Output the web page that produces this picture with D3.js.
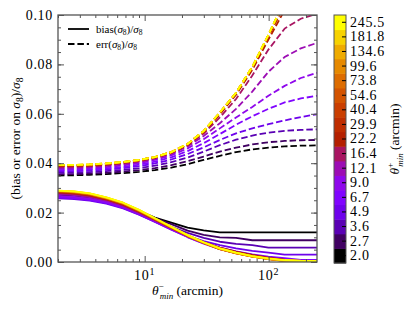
<!DOCTYPE html>
<html><head><meta charset="utf-8">
<script src="https://cdn.jsdelivr.net/npm/d3@7"></script>
<style>
body{margin:0;background:#fff;} svg{display:block;}
</style>
</head><body><svg id="c" width="415" height="312" style="font-family:'Liberation Serif'"></svg>
<script>
// theta_min^- grid (arcmin), same values as the theta_min^+ colorbar levels
const thetaMinus = [2.0, 2.7, 3.6, 4.9, 6.7, 9.0, 12.1, 16.4, 22.2, 29.9, 40.4, 54.6, 73.8, 99.6, 134.6, 181.8, 245.5];
const thetaPlusLabels = ["2.0","2.7","3.6","4.9","6.7","9.0","12.1","16.4","22.2","29.9","40.4","54.6","73.8","99.6","134.6","181.8","245.5"];
const yTickValues = [0, 0.02, 0.04, 0.06, 0.08, 0.10];
const xMajorTicks = [10, 100];
const xMajorExps = ["1", "2"];

// bias(sigma8)/sigma8, one row per theta_min^+ (2.0 ... 245.5)
const biasCurves = [
  [0.0272,0.0269,0.0262,0.0249,0.0231,0.0207,0.0180,0.0159,0.0139,0.0128,0.0120,0.0120,0.0120,0.0120,0.0120,0.0120,0.0120],
  [0.0266,0.0263,0.0256,0.0243,0.0225,0.0202,0.0177,0.0153,0.0127,0.0110,0.0100,0.0098,0.0088,0.0088,0.0088,0.0088,0.0088],
  [0.0262,0.0259,0.0252,0.0239,0.0220,0.0196,0.0169,0.0142,0.0118,0.0098,0.0082,0.0073,0.0068,0.0058,0.0058,0.0058,0.0058],
  [0.0258,0.0255,0.0249,0.0236,0.0217,0.0192,0.0163,0.0133,0.0106,0.0085,0.0068,0.0055,0.0045,0.0038,0.0030,0.0030,0.0030],
  [0.0262,0.0259,0.0252,0.0239,0.0219,0.0193,0.0162,0.0131,0.0101,0.0076,0.0058,0.0043,0.0031,0.0022,0.0016,0.0009,0.0009],
  [0.0268,0.0264,0.0257,0.0243,0.0222,0.0195,0.0164,0.0132,0.0101,0.0074,0.0052,0.0036,0.0024,0.0015,0.0009,0.0005,0.0005],
  [0.0275,0.0271,0.0263,0.0248,0.0227,0.0199,0.0168,0.0136,0.0105,0.0078,0.0055,0.0039,0.0026,0.0016,0.0009,0.0004,0.0003],
  [0.0279,0.0275,0.0267,0.0252,0.0230,0.0202,0.0171,0.0139,0.0108,0.0081,0.0058,0.0042,0.0029,0.0018,0.0010,0.0004,0.0002],
  [0.0282,0.0278,0.0270,0.0254,0.0232,0.0204,0.0172,0.0139,0.0107,0.0080,0.0057,0.0041,0.0028,0.0017,0.0009,0.0003,0.0001],
  [0.0284,0.0280,0.0272,0.0256,0.0234,0.0205,0.0172,0.0139,0.0106,0.0078,0.0054,0.0038,0.0025,0.0015,0.0007,0.0002,0.0000],
  [0.0285,0.0281,0.0273,0.0257,0.0235,0.0206,0.0173,0.0139,0.0105,0.0077,0.0052,0.0036,0.0023,0.0013,0.0005,0.0001,0.0000],
  [0.0286,0.0282,0.0274,0.0258,0.0236,0.0207,0.0173,0.0139,0.0105,0.0077,0.0052,0.0035,0.0022,0.0012,0.0004,0.0001,0.0000],
  [0.0287,0.0283,0.0275,0.0259,0.0237,0.0208,0.0174,0.0140,0.0106,0.0077,0.0052,0.0035,0.0022,0.0012,0.0005,0.0002,0.0001],
  [0.0288,0.0284,0.0276,0.0260,0.0238,0.0209,0.0175,0.0141,0.0107,0.0078,0.0053,0.0036,0.0022,0.0012,0.0005,0.0002,0.0002],
  [0.0288,0.0285,0.0277,0.0261,0.0239,0.0210,0.0176,0.0142,0.0108,0.0079,0.0054,0.0037,0.0023,0.0013,0.0006,0.0003,0.0003],
  [0.0289,0.0286,0.0278,0.0262,0.0240,0.0211,0.0177,0.0143,0.0109,0.0080,0.0055,0.0038,0.0024,0.0014,0.0007,0.0004,0.0004],
  [0.0289,0.0286,0.0278,0.0262,0.0240,0.0211,0.0177,0.0143,0.0109,0.0080,0.0055,0.0038,0.0024,0.0015,0.0008,0.0005,0.0004]
];

// err(sigma8)/sigma8, one row per theta_min^+ (2.0 ... 245.5)
const errCurves = [
  [0.0350,0.0351,0.0353,0.0356,0.0360,0.0365,0.0372,0.0382,0.0396,0.0413,0.0430,0.0445,0.0456,0.0463,0.0468,0.0471,0.0472],
  [0.0355,0.0356,0.0358,0.0361,0.0366,0.0372,0.0380,0.0392,0.0408,0.0427,0.0447,0.0463,0.0476,0.0485,0.0490,0.0493,0.0494],
  [0.0361,0.0362,0.0364,0.0368,0.0373,0.0380,0.0390,0.0404,0.0423,0.0447,0.0473,0.0495,0.0512,0.0524,0.0531,0.0535,0.0537],
  [0.0367,0.0368,0.0370,0.0374,0.0380,0.0388,0.0399,0.0415,0.0437,0.0464,0.0494,0.0521,0.0541,0.0558,0.0573,0.0587,0.0598],
  [0.0372,0.0373,0.0375,0.0379,0.0385,0.0394,0.0406,0.0424,0.0449,0.0481,0.0518,0.0556,0.0590,0.0620,0.0646,0.0662,0.0673],
  [0.0377,0.0378,0.0380,0.0384,0.0391,0.0400,0.0413,0.0432,0.0460,0.0497,0.0541,0.0585,0.0628,0.0673,0.0713,0.0745,0.0766],
  [0.0381,0.0382,0.0384,0.0389,0.0396,0.0405,0.0418,0.0438,0.0468,0.0510,0.0562,0.0620,0.0690,0.0770,0.0830,0.0865,0.0887],
  [0.0385,0.0386,0.0388,0.0392,0.0399,0.0408,0.0421,0.0441,0.0472,0.0520,0.0585,0.0660,0.0755,0.0860,0.0945,0.0985,0.1005],
  [0.0388,0.0389,0.0391,0.0395,0.0402,0.0411,0.0423,0.0443,0.0475,0.0525,0.0597,0.0677,0.0778,0.0900,0.1020,0.1100,0.1150],
  [0.0390,0.0390,0.0392,0.0396,0.0403,0.0412,0.0424,0.0444,0.0477,0.0528,0.0602,0.0682,0.0785,0.0912,0.1040,0.1150,0.1230],
  [0.0391,0.0391,0.0393,0.0397,0.0404,0.0412,0.0424,0.0444,0.0477,0.0529,0.0604,0.0684,0.0788,0.0916,0.1050,0.1180,0.1300],
  [0.0392,0.0392,0.0394,0.0398,0.0404,0.0413,0.0425,0.0445,0.0478,0.0530,0.0605,0.0685,0.0789,0.0918,0.1055,0.1190,0.1340],
  [0.0392,0.0392,0.0394,0.0398,0.0404,0.0413,0.0425,0.0445,0.0478,0.0530,0.0605,0.0685,0.0790,0.0919,0.1058,0.1195,0.1360],
  [0.0393,0.0393,0.0395,0.0399,0.0405,0.0413,0.0425,0.0445,0.0478,0.0530,0.0605,0.0685,0.0790,0.0920,0.1060,0.1198,0.1370],
  [0.0393,0.0393,0.0395,0.0399,0.0405,0.0413,0.0425,0.0445,0.0478,0.0530,0.0605,0.0685,0.0790,0.0920,0.1060,0.1200,0.1380],
  [0.0393,0.0393,0.0395,0.0399,0.0405,0.0413,0.0425,0.0445,0.0478,0.0530,0.0605,0.0685,0.0790,0.0920,0.1060,0.1200,0.1380],
  [0.0393,0.0393,0.0395,0.0399,0.0405,0.0413,0.0425,0.0445,0.0478,0.0530,0.0605,0.0685,0.0790,0.0920,0.1060,0.1200,0.1380]
];

const svg = d3.select("#c");
const P = {l:58, r:317, t:15, b:262};
const frameColor = "#555";
const FONT = "'Liberation Serif'";

const x = d3.scaleLog().domain([thetaMinus[0], thetaMinus[thetaMinus.length-1]]).range([P.l, P.r]);
const y = d3.scaleLinear().domain([0, 0.1]).range([P.b, P.t]);

// matplotlib 'gnuplot' colormap, 17 discrete levels
function gnuplot(t){
  const r = Math.sqrt(t), g = t*t*t, b = Math.max(0, Math.min(1, Math.sin(2*Math.PI*t)));
  return d3.rgb(Math.round(r*255), Math.round(g*255), Math.round(b*255)).formatHex();
}
const nLev = thetaPlusLabels.length;
const color = d3.scaleOrdinal().domain(d3.range(nLev)).range(d3.range(nLev).map(i => gnuplot(i/(nLev-1))));

svg.append("defs").append("clipPath").attr("id","clip")
  .append("rect").attr("x",P.l).attr("y",P.t).attr("width",P.r-P.l).attr("height",P.b-P.t);

const line = d3.line().x((d,j) => x(thetaMinus[j])).y(d => y(d));
const g = svg.append("g").attr("clip-path","url(#clip)");
for (let i = 0; i < nLev; i++){
  g.append("path").attr("d", line(biasCurves[i])).attr("fill","none")
    .attr("stroke", color(i)).attr("stroke-width",1.8).attr("stroke-linejoin","round");
  g.append("path").attr("d", line(errCurves[i])).attr("fill","none")
    .attr("stroke", color(i)).attr("stroke-width",1.8).attr("stroke-dasharray","6.5,2.9");
}

// axes (ticks inward on all sides)
const xMinor = [2,3,4,5,6,7,8,9,20,30,40,50,60,70,80,90,200];
function styleAxis(sel){ sel.attr("font-family",FONT).attr("font-size",14); sel.select(".domain").remove(); sel.selectAll(".tick line").attr("stroke",frameColor).attr("stroke-width",1); }
svg.append("g").attr("transform",`translate(0,${P.b})`).call(d3.axisBottom(x).tickValues(xMinor).tickSize(-3).tickFormat("")).call(styleAxis);
svg.append("g").attr("transform",`translate(0,${P.b})`).call(d3.axisBottom(x).tickValues(xMajorTicks).tickSize(-6).tickFormat("")).call(styleAxis);
svg.append("g").attr("transform",`translate(0,${P.t})`).call(d3.axisTop(x).tickValues(xMinor).tickSize(-3).tickFormat("")).call(styleAxis);
svg.append("g").attr("transform",`translate(0,${P.t})`).call(d3.axisTop(x).tickValues(xMajorTicks).tickSize(-6).tickFormat("")).call(styleAxis);

const yMinor = d3.range(0, 0.1001, 0.005);
svg.append("g").attr("transform",`translate(${P.l},0)`).call(d3.axisLeft(y).tickValues(yMinor).tickSize(-3).tickFormat("")).call(styleAxis);
svg.append("g").attr("transform",`translate(${P.r},0)`).call(d3.axisRight(y).tickValues(yMinor).tickSize(-3).tickFormat("")).call(styleAxis);
svg.append("g").attr("transform",`translate(${P.r},0)`).call(d3.axisRight(y).tickValues(yTickValues).tickSize(-6).tickFormat("")).call(styleAxis);
const yAx = svg.append("g").attr("transform",`translate(${P.l},0)`)
  .call(d3.axisLeft(y).tickValues(yTickValues).tickSize(-6).tickPadding(5).tickFormat(d3.format(".2f"))).call(styleAxis);
yAx.selectAll("text").attr("fill","#000").attr("font-family",FONT).attr("font-size",14).attr("letter-spacing",0.7);

// x major labels 10^k
const xl = svg.append("g");
xMajorTicks.forEach((v,k) => {
  const t = xl.append("text").attr("x", x(v)).attr("y", 280).attr("text-anchor","middle")
    .attr("font-family",FONT).attr("font-size",14).attr("letter-spacing",0.7);
  t.append("tspan").text("10");
  t.append("tspan").attr("dy",-5.5).attr("font-size",10).text(xMajorExps[k]);
});

svg.append("rect").attr("x",P.l).attr("y",P.t).attr("width",P.r-P.l).attr("height",P.b-P.t)
  .attr("fill","none").attr("stroke",frameColor).attr("stroke-width",1.3);

// x label
const xt = svg.append("text").attr("x",(P.l+P.r)/2).attr("y",295).attr("text-anchor","middle")
  .attr("font-family",FONT).attr("font-size",13.5);
xt.append("tspan").attr("font-style","italic").text("θ");
xt.append("tspan").attr("dy",-6).attr("font-size",9).text("−");
xt.append("tspan").attr("dx",-4).attr("dy",10).attr("font-size",9).attr("font-style","italic").text("min");
xt.append("tspan").attr("dy",-4).text(" (arcmin)");

// y label
const yt = svg.append("text").attr("transform",`translate(20,${(P.t+P.b)/2}) rotate(-90)`).attr("text-anchor","middle")
  .attr("font-family",FONT).attr("font-size",13.5);
yt.append("tspan").text("(bias or error on ");
yt.append("tspan").attr("font-style","italic").text("σ");
yt.append("tspan").attr("dy",3).attr("font-size",9.5).text("8");
yt.append("tspan").attr("dy",-3).text(")/");
yt.append("tspan").attr("font-style","italic").text("σ");
yt.append("tspan").attr("dy",3).attr("font-size",9.5).text("8");

// legend
const leg = [{lab:"bias", dash:null, yy:29},{lab:"err", dash:"6.5,2.9", yy:44}];
leg.forEach(d => {
  svg.append("line").attr("x1",68).attr("x2",89).attr("y1",d.yy).attr("y2",d.yy)
    .attr("stroke","#000").attr("stroke-width",1.8).attr("stroke-dasharray",d.dash);
  const t = svg.append("text").attr("x",96).attr("y",d.yy+3.5).attr("font-family",FONT).attr("font-size",11);
  t.append("tspan").text(d.lab + "(");
  t.append("tspan").attr("font-style","italic").text("σ");
  t.append("tspan").attr("dy",2.5).attr("font-size",7.5).text("8");
  t.append("tspan").attr("dy",-2.5).text(")/");
  t.append("tspan").attr("font-style","italic").text("σ");
  t.append("tspan").attr("dy",2.5).attr("font-size",7.5).text("8");
});

// colorbar
const CB = {x0:334, x1:346, t:15, b:263};
const cbScale = d3.scaleBand().domain(d3.range(nLev)).range([CB.b, CB.t]);
svg.append("g").selectAll("rect").data(d3.range(nLev)).join("rect")
  .attr("x",CB.x0).attr("width",CB.x1-CB.x0)
  .attr("y",d => cbScale(d)).attr("height",cbScale.bandwidth()+0.5)
  .attr("fill",d => color(d));
svg.append("rect").attr("x",CB.x0).attr("y",CB.t).attr("width",CB.x1-CB.x0).attr("height",CB.b-CB.t)
  .attr("fill","none").attr("stroke",frameColor).attr("stroke-width",1);
const cbAx = svg.append("g").attr("transform",`translate(${CB.x1},0)`)
  .call(d3.axisRight(cbScale).tickSize(-4).tickPadding(4).tickFormat(i => thetaPlusLabels[i]));
cbAx.attr("font-family",FONT).attr("font-size",14);
cbAx.select(".domain").remove();
cbAx.selectAll(".tick line").attr("stroke","#000");
cbAx.selectAll("text").attr("fill","#000").attr("letter-spacing",0.7);

const ct = svg.append("text").attr("transform",`translate(399,${(CB.t+CB.b)/2}) rotate(-90)`).attr("text-anchor","middle")
  .attr("font-family",FONT).attr("font-size",13.5);
ct.append("tspan").attr("font-style","italic").text("θ");
ct.append("tspan").attr("dy",-6).attr("font-size",9).text("+");
ct.append("tspan").attr("dx",-4).attr("dy",10).attr("font-size",9).attr("font-style","italic").text("min");
ct.append("tspan").attr("dy",-4).text(" (arcmin)");
</script></body></html>
